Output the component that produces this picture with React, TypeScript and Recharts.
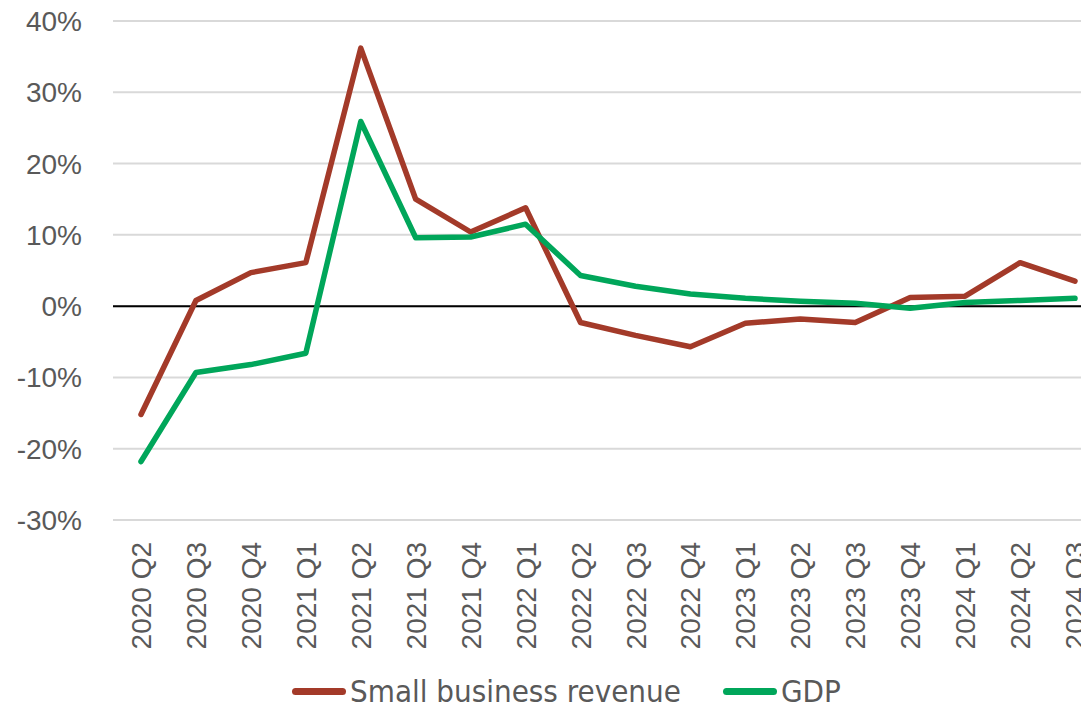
import React from "react";
import { LineChart, Line, XAxis, YAxis, CartesianGrid, ReferenceLine } from "recharts";

const quarters = [
  "2020 Q2", "2020 Q3", "2020 Q4",
  "2021 Q1", "2021 Q2", "2021 Q3", "2021 Q4",
  "2022 Q1", "2022 Q2", "2022 Q3", "2022 Q4",
  "2023 Q1", "2023 Q2", "2023 Q3", "2023 Q4",
  "2024 Q1", "2024 Q2", "2024 Q3",
];

// year-over-year change, percent
const smallBizRevenue = [
  -15.2, 0.8, 4.7, 6.1, 36.2, 15.0, 10.4, 13.8, -2.3, -4.1, -5.7, -2.4, -1.8, -2.3, 1.2, 1.4, 6.1, 3.5,
];
const gdp = [
  -21.8, -9.3, -8.2, -6.6, 25.9, 9.6, 9.7, 11.5, 4.3, 2.8, 1.7, 1.1, 0.7, 0.4, -0.3, 0.5, 0.8, 1.1,
];

const yTicks = [-30, -20, -10, 0, 10, 20, 30, 40];

const RED = "#a33a29";
const GREEN = "#00a65a";
const TEXT = "#595959";
const AXIS_FONT = "'Liberation Sans', Arial, sans-serif";

const data = quarters.map((q, i) => ({
  quarter: q,
  revenue: smallBizRevenue[i],
  gdp: gdp[i],
}));

function QuarterTick({ x, y, payload }: any) {
  return (
    <text
      x={x}
      y={y}
      transform={`rotate(-90, ${x}, ${y})`}
      textAnchor="end"
      dy="0.36em"
      fill={TEXT}
      fontSize={28}
      fontFamily={AXIS_FONT}
    >
      {payload.value}
    </text>
  );
}

function LegendItem({ color, label }: { color: string; label: string }) {
  return (
    <span style={{ display: "inline-flex", alignItems: "center" }}>
      <span
        style={{
          display: "inline-block",
          width: 54,
          height: 7,
          borderRadius: 4,
          background: color,
          marginRight: 4,
        }}
      />
      <span>{label}</span>
    </span>
  );
}

export default function App() {
  return (
    <div
      style={{
        margin: -8,
        width: 1089,
        height: 717,
        overflow: "hidden",
        position: "relative",
        background: "#fff",
      }}
    >
      <LineChart
        width={1089}
        height={717}
        data={data}
        margin={{ top: 21, right: 0, left: 0, bottom: 0 }}
      >
        <CartesianGrid vertical={false} stroke="#d9d9d9" strokeWidth={2} />
        <XAxis
          dataKey="quarter"
          interval={0}
          axisLine={false}
          tickLine={false}
          tickMargin={16}
          height={197}
          padding={{ left: 28, right: 14 }}
          tick={<QuarterTick />}
        />
        <YAxis
          domain={[-30, 40]}
          ticks={yTicks}
          interval={0}
          width={113}
          axisLine={false}
          tickLine={false}
          tickMargin={25}
          tickFormatter={(v: number) => `${v}%`}
          tick={{ fill: TEXT, fontSize: 28, fontFamily: AXIS_FONT }}
        />
        <ReferenceLine y={0} stroke="#000" strokeWidth={2} />
        <Line
          type="linear"
          dataKey="revenue"
          name="Small business revenue"
          stroke={RED}
          strokeWidth={5.5}
          strokeLinecap="round"
          strokeLinejoin="round"
          dot={false}
          isAnimationActive={false}
        />
        <Line
          type="linear"
          dataKey="gdp"
          name="GDP"
          stroke={GREEN}
          strokeWidth={5.5}
          strokeLinecap="round"
          strokeLinejoin="round"
          dot={false}
          isAnimationActive={false}
        />
      </LineChart>
      <div
        style={{
          position: "absolute",
          left: 292,
          top: 676,
          height: 30,
          display: "flex",
          gap: 42,
          fontFamily: "'DejaVu Sans Condensed', 'DejaVu Sans', sans-serif",
          fontSize: 31,
          lineHeight: "30px",
          color: TEXT,
        }}
      >
        <LegendItem color={RED} label="Small business revenue" />
        <LegendItem color={GREEN} label="GDP" />
      </div>
    </div>
  );
}
